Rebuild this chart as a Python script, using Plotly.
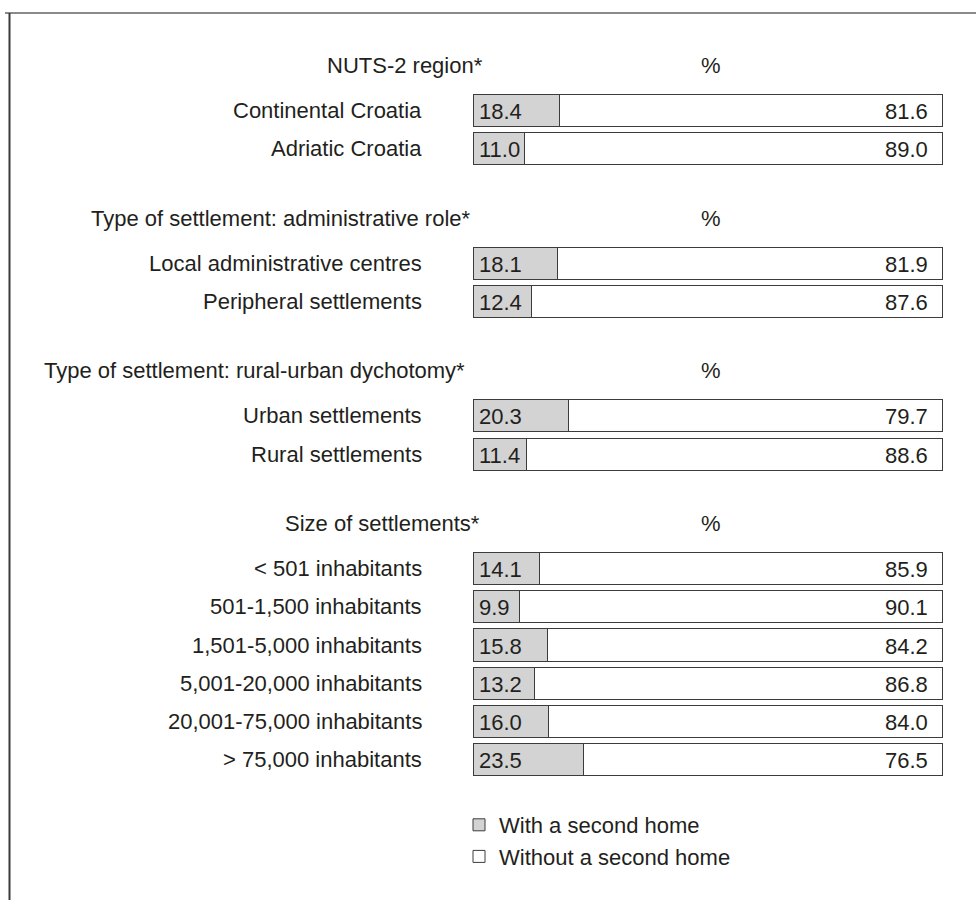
import plotly.graph_objects as go

# ---------------- data ----------------
section_titles = [
    "NUTS-2 region*",
    "Type of settlement: administrative role*",
    "Type of settlement: rural-urban dychotomy*",
    "Size of settlements*",
]
section_categories = [
    ["Continental Croatia", "Adriatic Croatia"],
    ["Local administrative centres", "Peripheral settlements"],
    ["Urban settlements", "Rural settlements"],
    ["< 501 inhabitants", "501-1,500 inhabitants", "1,501-5,000 inhabitants",
     "5,001-20,000 inhabitants", "20,001-75,000 inhabitants", "> 75,000 inhabitants"],
]
with_second_home = [
    [18.4, 11.0],
    [18.1, 12.4],
    [20.3, 11.4],
    [14.1, 9.9, 15.8, 13.2, 16.0, 23.5],
]
without_second_home = [
    [81.6, 89.0],
    [81.9, 87.6],
    [79.7, 88.6],
    [85.9, 90.1, 84.2, 86.8, 84.0, 76.5],
]
series_names = ["With a second home", "Without a second home"]
unit_label = "%"

# ---------------- layout constants ----------------
W, H = 976, 900
FONT = "Liberation Sans, Arial, sans-serif"
FS = 22
TXT = "#231f20"
GRAY = "#d3d3d3"
EDGE = "#3c3c3c"

ROW_PX = 38.18          # pixels per row slot
FIRST_ROW_PX = 110.5    # pixel centre of the first bar
SECTION_SLOTS = 4       # slot offset between section starts
HEADER_OFFSET = 1.18    # header sits this many slots above its first bar
BAR_X0, BAR_X1 = 473, 942   # pixel positions of 0 % and 100 %
PLOT_X1 = 950               # plot area extends a little past 100 % so the outline is not clipped
LABEL_RIGHT = 424
HEADER_RIGHT = [485, 472, 467, 482]
PCT_X = 711

# slot positions for rows and headers
cats, y_slots, w_vals, wo_vals, header_slots = [], [], [], [], []
start = 0
for k, names in enumerate(section_categories):
    header_slots.append(start - HEADER_OFFSET)
    for j, nm in enumerate(names):
        cats.append(nm)
        y_slots.append(start + j)
        w_vals.append(with_second_home[k][j])
        wo_vals.append(without_second_home[k][j])
    start += SECTION_SLOTS

y_top = -FIRST_ROW_PX / ROW_PX
y_bot = (H - FIRST_ROW_PX) / ROW_PX
x_max = 100 * (PLOT_X1 - BAR_X0) / (BAR_X1 - BAR_X0)

fig = go.Figure()
fig.add_trace(go.Bar(
    y=y_slots, x=w_vals, orientation="h", name=series_names[0],
    marker=dict(color=GRAY, line=dict(color=EDGE, width=1)),
    width=0.84, hoverinfo="skip",
))
fig.add_trace(go.Bar(
    y=y_slots, x=wo_vals, orientation="h", name=series_names[1],
    marker=dict(color="white", line=dict(color=EDGE, width=1)),
    width=0.84, hoverinfo="skip",
))

annotations = []
for nm, ys, a, b in zip(cats, y_slots, w_vals, wo_vals):
    annotations.append(dict(x=LABEL_RIGHT / W, xref="paper", y=ys, yref="y",
                            text=nm, xanchor="right", yanchor="middle",
                            showarrow=False, font=dict(size=FS, color=TXT, family=FONT)))
    annotations.append(dict(x=0, xref="x", y=ys, yref="y", text=f"{a:.1f}",
                            xanchor="left", yanchor="middle", xshift=4, yshift=-1,
                            showarrow=False, font=dict(size=FS, color=TXT, family=FONT)))
    annotations.append(dict(x=a + b, xref="x", y=ys, yref="y", text=f"{b:.1f}",
                            xanchor="right", yanchor="middle", xshift=-12, yshift=-1,
                            showarrow=False, font=dict(size=FS, color=TXT, family=FONT)))
for t, hs, hr in zip(section_titles, header_slots, HEADER_RIGHT):
    annotations.append(dict(x=hr / W, xref="paper", y=hs, yref="y", text=t,
                            xanchor="right", yanchor="middle", showarrow=False,
                            font=dict(size=FS, color=TXT, family=FONT)))
    annotations.append(dict(x=PCT_X / W, xref="paper", y=hs, yref="y", text=unit_label,
                            xanchor="center", yanchor="middle", showarrow=False,
                            font=dict(size=FS, color=TXT, family=FONT)))

shapes = [
    dict(type="line", xref="paper", yref="paper", x0=5 / W, x1=1, y0=1 - 13 / H, y1=1 - 13 / H,
         line=dict(color="#8a8a8a", width=2)),
    dict(type="line", xref="paper", yref="paper", x0=9.5 / W, x1=9.5 / W, y0=0, y1=1 - 13 / H,
         line=dict(color="#3a3a3a", width=2)),
]

fig.update_layout(
    width=W, height=H,
    margin=dict(l=0, r=0, t=0, b=0),
    paper_bgcolor="white", plot_bgcolor="white",
    barmode="stack",
    xaxis=dict(domain=[BAR_X0 / W, PLOT_X1 / W], range=[0, x_max], visible=False, fixedrange=True),
    yaxis=dict(domain=[0, 1], range=[y_bot, y_top], visible=False, fixedrange=True),
    showlegend=True,
    legend=dict(x=459 / W, y=1 - 804 / H, xanchor="left", yanchor="top",
                font=dict(size=FS, color=TXT, family=FONT),
                bgcolor="rgba(0,0,0,0)", traceorder="normal", itemclick=False,
                itemdoubleclick=False),
    annotations=annotations,
    shapes=shapes,
    font=dict(family=FONT, color=TXT),
    hovermode=False,
)

fig.write_html("out.html", config={"displayModeBar": False},
               post_script="document.body.style.margin='0';document.body.style.overflow='hidden';")
